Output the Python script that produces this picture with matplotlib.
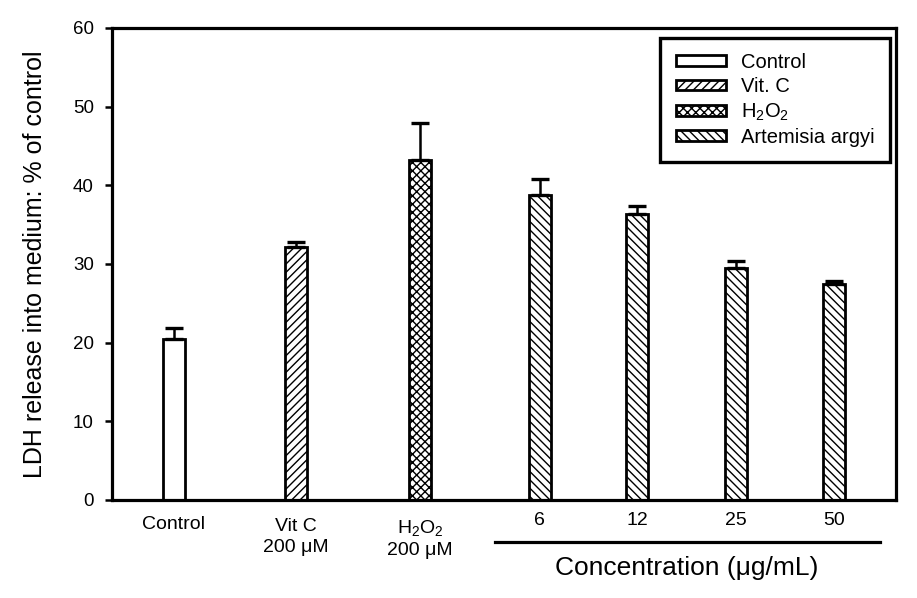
import numpy as np
import matplotlib
matplotlib.use("Agg")
import matplotlib.pyplot as plt
from matplotlib.patches import Patch

plt.rcParams['font.family'] = ['Liberation Sans', 'DejaVu Sans']
plt.rcParams['mathtext.fontset'] = 'custom'
plt.rcParams['mathtext.rm'] = 'Liberation Sans'
plt.rcParams['mathtext.it'] = 'Liberation Sans'
plt.rcParams['hatch.linewidth'] = 1.0

# data
groups = ['Control', 'Vit C', 'H2O2', '6', '12', '25', '50']
ldh = [20.5, 32.1, 43.2, 38.8, 36.4, 29.5, 27.4]
err = [1.3, 0.7, 4.7, 2.0, 1.0, 0.9, 0.5]
hatches = ['', '////', 'xxxx', '\\\\\\\\', '\\\\\\\\', '\\\\\\\\', '\\\\\\\\']
legend_names = ['Control', 'Vit. C', r'H$_2$O$_2$', 'Artemisia argyi']
conc_labels = ['6', '12', '25', '50']

# bar centres (the treated group is packed a bit tighter)
xpos = np.array([0, 1, 2.02, 3.0, 3.8, 4.61, 5.41])

fig = plt.figure(figsize=(9.17, 5.98), dpi=100)
ax = fig.add_axes([0.1221, 0.1639, 0.8550, 0.7893])

ax.bar(xpos, ldh, width=0.18, color='white', edgecolor='black',
       linewidth=2.0, hatch=hatches, zorder=2)
ax.errorbar(xpos, ldh, yerr=[np.zeros(len(err)), err], fmt='none',
            ecolor='black', elinewidth=1.8, capsize=6.5, capthick=2.4, zorder=3)

ax.set_xlim(-0.508, 5.92)
ax.set_ylim(0, 60)
ax.set_yticks(np.arange(0, 61, 10))
ax.set_yticklabels([str(v) for v in range(0, 61, 10)], fontsize=13.5)
ax.set_xticks([])
ax.tick_params(axis='y', direction='out', length=5, width=1.8, pad=8)
for s in ax.spines.values():
    s.set_linewidth(2.3)

ax.set_ylabel('LDH release into medium: % of control', fontsize=18)
ax.yaxis.set_label_coords(-0.083, 0.5)

# category labels under the axis
ax.annotate('Control', (xpos[0], 0), xycoords=('data', 'axes fraction'),
            xytext=(0, -11.5), textcoords='offset points', ha='center', va='top', fontsize=14)
ax.annotate('Vit C\n200 \u03bcM', (xpos[1], 0), xycoords=('data', 'axes fraction'),
            xytext=(0, -13.0), textcoords='offset points', ha='center', va='top',
            fontsize=14, linespacing=1.3)
ax.annotate('H$_2$O$_2$\n200 \u03bcM', (xpos[2], 0), xycoords=('data', 'axes fraction'),
            xytext=(0, -13.0), textcoords='offset points', ha='center', va='top',
            fontsize=14, linespacing=1.3)
for xp, lab in zip(xpos[3:], conc_labels):
    ax.annotate(lab, (xp, 0), xycoords=('data', 'axes fraction'),
                xytext=(0, -8.6), textcoords='offset points', ha='center', va='top', fontsize=14)

trans = ax.get_xaxis_transform()
ax.plot([xpos[3] - 0.37, xpos[6] + 0.38], [-0.089, -0.089], color='black',
        lw=2.3, transform=trans, clip_on=False)
ax.annotate('Concentration (\u03bcg/mL)', (xpos[3:].mean(), 0), xycoords=('data', 'axes fraction'),
            xytext=(0, -40), textcoords='offset points', ha='center', va='top', fontsize=19)

handles = [Patch(facecolor='white', edgecolor='black', linewidth=2.0, hatch=h)
           for h in ['', '////', 'xxxx', '\\\\\\\\']]
leg = ax.legend(handles, legend_names, loc='upper right', bbox_to_anchor=(0.992, 0.979),
                borderaxespad=0, fancybox=False, edgecolor='black', fontsize=14.5,
                handlelength=2.5, handleheight=0.45, labelspacing=0.26,
                handletextpad=0.75, borderpad=0.75, framealpha=1)
leg.get_frame().set_linewidth(2.4)

fig.savefig('out.png', dpi=100)
